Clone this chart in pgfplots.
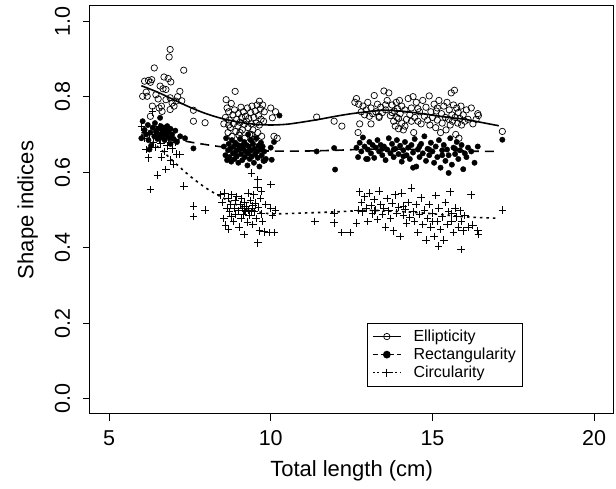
\documentclass[border=0pt]{standalone}
\usepackage{fontspec}
\setmainfont{Liberation Sans}
\usepackage{pgfplots}
\pgfplotsset{compat=1.18}

\begin{document}
\begin{tikzpicture}
% page frame: axis box is 524 x 408 with its lower left corner at the origin
\useasboundingbox (-89.6pt,-75pt) rectangle (526.4pt,414pt);
\begin{axis}[
    scale only axis,
    width=524pt, height=408pt,
    xmin=4.4, xmax=20.6,
    ymin=-0.04, ymax=1.04,
    xtick={5,10,15,20},
    ytick={0,0.2,0.4,0.6,0.8,1.0},
    tick align=outside,
    major tick length=7pt,
    tick style={black, line width=0.8pt},
    axis line style={black, line width=1pt},
    xtick pos=bottom, ytick pos=left,
    /pgf/number format/assume math mode=true,
    ticklabel style={font=\fontsize{21.5}{24}\selectfont},
    xticklabel style={yshift=-6pt},
    yticklabel style={rotate=90, anchor=south, yshift=9pt,
        /pgf/number format/fixed, /pgf/number format/precision=1,
        /pgf/number format/fixed zerofill},
    xlabel={Total length (cm)},
    ylabel={Shape indices},
    label style={font=\fontsize{22}{26}\selectfont},
    xlabel style={at={(axis description cs:0.5,-0.14)}, anchor=center},
    ylabel style={at={(axis description cs:-0.118,0.5)}, anchor=center},
    legend style={at={(axis description cs:0.529,0.067)}, anchor=south west,
        draw=black, line width=0.8pt, font=\fontsize{16}{18}\selectfont,
        inner xsep=5pt, inner ysep=5pt, row sep=1pt,
        /tikz/every odd column/.append style={column sep=10pt},
        cells={anchor=west}},
    legend image code/.code={
        \draw[mark repeat=2,mark phase=2,#1]
        plot coordinates {(0pt,0pt) (14pt,0pt) (28pt,0pt)};},
  ]

% Ellipticity (open circles)
\addplot[only marks, mark=o, mark size=3.2pt, mark options={black, line width=0.7pt}, forget plot] coordinates {
(6.89,0.925) (6.86,0.905) (6.40,0.876) (7.31,0.870) (6.70,0.852) (6.83,0.848) (6.91,0.839)
(6.10,0.841) (6.22,0.843) (6.32,0.845) (6.28,0.838) (6.58,0.828) (6.67,0.821) (6.76,0.819)
(7.19,0.814) (6.04,0.801) (6.18,0.801) (6.52,0.794) (6.76,0.792) (6.89,0.797) (7.07,0.788)
(7.25,0.789) (6.62,0.775) (7.01,0.775) (6.89,0.766) (6.64,0.761) (7.61,0.764) (7.61,0.735)
(7.97,0.731) (6.34,0.775) (6.28,0.748) (6.15,0.812) (6.45,0.805) (6.95,0.783) (6.55,0.770)
(7.12,0.800)
(8.55,0.728) (8.60,0.745) (8.62,0.792) (8.65,0.770) (8.68,0.705) (8.70,0.760) (8.72,0.738)
(8.75,0.718) (8.78,0.782) (8.80,0.695) (8.83,0.752) (8.85,0.728) (8.88,0.765) (8.90,0.814)
(8.92,0.708) (8.95,0.740) (8.98,0.722) (9.00,0.755) (9.02,0.698) (9.05,0.732) (9.08,0.772)
(9.10,0.745) (9.12,0.712) (9.15,0.760) (9.18,0.727) (9.20,0.690) (9.22,0.748) (9.25,0.735)
(9.28,0.770) (9.30,0.718) (9.32,0.742) (9.35,0.700) (9.38,0.758) (9.40,0.728) (9.42,0.775)
(9.45,0.712) (9.48,0.745) (9.50,0.688) (9.52,0.762) (9.55,0.730) (9.58,0.778) (9.60,0.705)
(9.62,0.750) (9.65,0.725) (9.68,0.768) (9.70,0.740) (9.72,0.695) (9.75,0.778) (9.78,0.735)
(9.80,0.760) (9.55,0.682) (9.40,0.700) (9.65,0.788) (9.05,0.705) (8.70,0.725) (10.00,0.770)
(10.05,0.744) (10.10,0.695) (10.20,0.690) (10.15,0.760) (9.80,0.632)
(11.42,0.746) (11.96,0.735) (12.20,0.722)
(12.60,0.785) (12.65,0.795) (12.70,0.705) (12.72,0.780) (12.75,0.728) (12.80,0.760) (12.85,0.775)
(12.90,0.752) (12.95,0.765) (13.00,0.785) (13.05,0.748) (13.10,0.770) (13.15,0.755) (13.20,0.803)
(13.25,0.760) (13.30,0.780) (13.35,0.748) (13.40,0.772) (13.45,0.758) (13.50,0.815) (13.55,0.765)
(13.60,0.790) (13.65,0.810) (13.70,0.750) (13.75,0.778) (13.80,0.735) (13.82,0.762) (13.85,0.722)
(13.88,0.785) (13.90,0.745) (13.92,0.768) (13.95,0.715) (13.98,0.790) (14.00,0.755) (14.05,0.775)
(14.10,0.712) (14.15,0.765) (14.20,0.740) (14.25,0.795) (14.30,0.752) (14.35,0.770) (14.40,0.800)
(14.42,0.705) (14.45,0.745) (14.50,0.785) (14.55,0.735) (14.60,0.760) (14.65,0.728) (14.70,0.790)
(14.75,0.748) (14.80,0.772) (14.85,0.738) (14.90,0.802) (14.92,0.725) (14.95,0.760) (15.00,0.745)
(15.05,0.780) (15.10,0.718) (15.12,0.762) (15.15,0.738) (15.20,0.790) (15.25,0.705) (15.28,0.755)
(15.30,0.730) (15.35,0.775) (15.40,0.745) (15.42,0.712) (15.45,0.785) (15.50,0.740) (15.52,0.765)
(15.55,0.725) (15.58,0.810) (15.60,0.752) (15.62,0.735) (15.65,0.778) (15.68,0.817) (15.70,0.745)
(15.72,0.700) (15.75,0.770) (15.78,0.730) (15.80,0.758) (15.82,0.690) (15.85,0.742) (15.88,0.775)
(15.90,0.725) (15.95,0.752) (16.00,0.735) (16.05,0.765) (16.10,0.740) (16.20,0.770) (16.25,0.728)
(16.40,0.755) (16.42,0.750) (16.35,0.740) (13.35,0.745) (13.10,0.728) (14.05,0.730) (13.75,0.758)
(14.55,0.768) (17.16,0.708) (13.95,0.742) (14.15,0.722) (14.35,0.735) (13.55,0.778) (15.15,0.770)
};

% Rectangularity (filled dots)
\addplot[only marks, mark=*, mark size=2.7pt, mark options={black}, forget plot] coordinates {
(6.00,0.690) (6.04,0.735) (6.10,0.712) (6.15,0.700) (6.20,0.725) (6.22,0.685) (6.28,0.705)
(6.30,0.670) (6.35,0.718) (6.40,0.695) (6.42,0.730) (6.45,0.708) (6.50,0.688) (6.52,0.715)
(6.55,0.700) (6.58,0.744) (6.60,0.722) (6.62,0.692) (6.65,0.710) (6.68,0.702) (6.70,0.718)
(6.72,0.685) (6.75,0.712) (6.78,0.698) (6.80,0.722) (6.85,0.705) (6.88,0.690) (6.90,0.715)
(6.95,0.700) (7.00,0.688) (7.05,0.710) (7.10,0.680) (7.20,0.695) (7.35,0.690) (7.61,0.663)
(6.25,0.660) (6.90,0.675)
(8.55,0.668) (8.60,0.645) (8.62,0.690) (8.65,0.632) (8.68,0.658) (8.70,0.675) (8.72,0.640)
(8.75,0.662) (8.78,0.628) (8.80,0.685) (8.83,0.650) (8.85,0.668) (8.88,0.635) (8.90,0.678)
(8.92,0.655) (8.95,0.642) (8.98,0.672) (9.00,0.625) (9.02,0.660) (9.05,0.688) (9.08,0.648)
(9.10,0.670) (9.12,0.632) (9.15,0.662) (9.18,0.680) (9.20,0.640) (9.22,0.655) (9.25,0.672)
(9.28,0.618) (9.30,0.650) (9.32,0.668) (9.35,0.635) (9.38,0.685) (9.40,0.658) (9.42,0.642)
(9.45,0.675) (9.48,0.625) (9.50,0.662) (9.52,0.648) (9.55,0.690) (9.58,0.655) (9.60,0.638)
(9.62,0.670) (9.65,0.615) (9.68,0.660) (9.70,0.678) (9.72,0.645) (9.75,0.668) (9.78,0.630)
(9.80,0.655) (9.85,0.635) (10.00,0.665) (10.03,0.633) (10.10,0.680) (10.27,0.750) (9.30,0.700)
(11.42,0.655) (11.96,0.664) (11.99,0.607)
(12.65,0.665) (12.70,0.640) (12.75,0.678) (12.80,0.655) (12.85,0.692) (12.90,0.668) (12.95,0.635)
(13.00,0.660) (13.05,0.680) (13.10,0.650) (13.15,0.672) (13.20,0.638) (13.25,0.665) (13.30,0.685)
(13.35,0.655) (13.40,0.672) (13.45,0.645) (13.50,0.668) (13.55,0.632) (13.60,0.660) (13.65,0.690)
(13.70,0.650) (13.75,0.675) (13.80,0.640) (13.85,0.662) (13.90,0.685) (13.95,0.648) (14.00,0.670)
(14.05,0.628) (14.10,0.658) (14.15,0.680) (14.20,0.645) (14.25,0.665) (14.30,0.635) (14.35,0.672)
(14.40,0.652) (14.45,0.688) (14.50,0.615) (14.55,0.660) (14.60,0.640) (14.65,0.675) (14.70,0.650)
(14.75,0.695) (14.80,0.630) (14.85,0.662) (14.90,0.645) (14.95,0.678) (15.00,0.655) (15.05,0.625)
(15.10,0.668) (15.15,0.640) (15.20,0.685) (15.25,0.612) (15.30,0.658) (15.35,0.672) (15.40,0.630)
(15.45,0.660) (15.50,0.645) (15.55,0.690) (15.60,0.620) (15.65,0.665) (15.70,0.648) (15.75,0.680)
(15.80,0.635) (15.85,0.658) (15.90,0.672) (15.95,0.608) (16.00,0.650) (16.05,0.640) (16.10,0.665)
(16.20,0.655) (16.30,0.625) (16.40,0.668) (13.00,0.635) (13.80,0.660) (14.40,0.612) (15.50,0.598)
(17.16,0.686) (14.10,0.642) (14.60,0.668) (15.30,0.645) (15.70,0.662) (13.45,0.662) (14.90,0.660)
};

% Circularity (plus signs)
\addplot[only marks, mark=+, mark size=3.8pt, mark options={black, line width=0.9pt}, forget plot] coordinates {
(6.00,0.720) (6.10,0.690) (6.15,0.660) (6.22,0.638) (6.28,0.554) (6.34,0.760) (6.38,0.680)
(6.40,0.700) (6.45,0.665) (6.50,0.592) (6.55,0.688) (6.60,0.675) (6.62,0.640) (6.68,0.700)
(6.70,0.655) (6.76,0.607) (6.80,0.670) (6.85,0.690) (6.90,0.632) (6.95,0.662) (7.00,0.620)
(7.05,0.680) (7.10,0.648) (7.19,0.647) (7.31,0.563) (6.25,0.700) (6.55,0.720)
(7.61,0.510) (7.61,0.483) (7.97,0.500) (8.45,0.540) (8.50,0.520) (8.55,0.478) (8.58,0.545)
(8.60,0.460) (8.65,0.505) (8.68,0.530) (8.70,0.448) (8.72,0.495) (8.75,0.515) (8.78,0.482)
(8.80,0.540) (8.85,0.470) (8.88,0.505) (8.90,0.525) (8.92,0.488) (8.95,0.535) (9.00,0.498)
(9.02,0.455) (9.05,0.515) (9.08,0.478) (9.10,0.530) (9.12,0.505) (9.15,0.488) (9.18,0.435)
(9.20,0.520) (9.22,0.495) (9.25,0.510) (9.28,0.468) (9.30,0.545) (9.32,0.500) (9.35,0.485)
(9.38,0.525) (9.40,0.598) (9.42,0.505) (9.45,0.462) (9.48,0.540) (9.50,0.495) (9.52,0.518)
(9.55,0.478) (9.58,0.560) (9.60,0.580) (9.60,0.413) (9.62,0.508) (9.65,0.445) (9.68,0.530)
(9.70,0.490) (9.72,0.550) (9.75,0.470) (9.80,0.442) (9.85,0.515) (9.95,0.440) (10.00,0.567)
(10.00,0.505) (10.05,0.485) (10.10,0.440) (10.15,0.500) (9.40,0.495) (9.45,0.512) (9.20,0.500)
(11.36,0.470) (11.96,0.466) (11.96,0.492) (12.20,0.440) (12.45,0.440)
(12.65,0.465) (12.70,0.500) (12.75,0.548) (12.80,0.520) (12.85,0.495) (12.90,0.535) (12.95,0.505)
(13.00,0.470) (13.05,0.545) (13.10,0.512) (13.15,0.490) (13.20,0.528) (13.25,0.500) (13.30,0.475)
(13.35,0.550) (13.40,0.515) (13.45,0.488) (13.50,0.505) (13.55,0.455) (13.60,0.530) (13.65,0.498)
(13.70,0.478) (13.75,0.518) (13.80,0.445) (13.85,0.540) (13.90,0.492) (13.95,0.508) (14.00,0.430)
(14.05,0.545) (14.10,0.485) (14.15,0.502) (14.20,0.465) (14.25,0.520) (14.30,0.480) (14.35,0.558)
(14.40,0.495) (14.45,0.470) (14.50,0.515) (14.55,0.440) (14.60,0.488) (14.65,0.532) (14.70,0.462)
(14.75,0.500) (14.80,0.420) (14.85,0.478) (14.90,0.515) (14.95,0.455) (15.00,0.492) (15.05,0.430)
(15.10,0.538) (15.15,0.470) (15.19,0.404) (15.20,0.505) (15.25,0.448) (15.30,0.482) (15.35,0.420)
(15.40,0.520) (15.45,0.462) (15.50,0.495) (15.55,0.548) (15.60,0.470) (15.65,0.440) (15.70,0.505)
(15.75,0.482) (15.80,0.455) (15.85,0.498) (15.89,0.395) (15.90,0.470) (15.95,0.445) (16.00,0.485)
(16.10,0.455) (16.20,0.540) (16.25,0.460) (16.40,0.445) (16.42,0.435) (13.20,0.498) (14.10,0.510)
(15.00,0.470) (15.60,0.490) (17.16,0.500)
};

% smoothed trends
\addplot[black, line width=1.6pt, smooth, forget plot] coordinates {
(6.0,0.829) (6.5,0.812) (7.0,0.792) (7.5,0.772) (8.0,0.755) (8.5,0.742) (9.0,0.733)
(9.5,0.727) (10.0,0.725) (10.5,0.727) (11.0,0.733) (11.5,0.740) (12.0,0.748) (12.5,0.755)
(13.0,0.760) (13.5,0.764) (14.0,0.762) (14.5,0.757) (15.0,0.751) (15.5,0.745) (16.0,0.740)
(16.5,0.732) (17.05,0.723)
};
\addplot[black, line width=1.6pt, dash pattern=on 9pt off 6pt, smooth, forget plot] coordinates {
(6.0,0.705) (6.5,0.697) (7.0,0.688) (7.5,0.680) (8.0,0.673) (8.5,0.667) (9.0,0.662)
(9.5,0.658) (10.0,0.656) (11.0,0.656) (12.0,0.658) (13.0,0.661) (14.0,0.661) (15.0,0.659)
(16.0,0.656) (17.05,0.655)
};
\addplot[black, line width=1.6pt, dash pattern=on 2.5pt off 4pt, smooth, forget plot] coordinates {
(6.0,0.700) (6.5,0.668) (7.0,0.628) (7.5,0.590) (8.0,0.558) (8.5,0.533) (9.0,0.512)
(9.5,0.498) (10.0,0.490) (11.0,0.492) (12.0,0.495) (13.0,0.499) (14.0,0.496) (15.0,0.490)
(16.0,0.482) (17.05,0.478)
};

\addlegendimage{black, line width=1.3pt, mark=o, mark size=3.2pt, mark options={solid, line width=0.7pt}}
\addlegendentry{Ellipticity}
\addlegendimage{black, line width=1.3pt, dash pattern=on 5pt off 3pt, mark=*, mark size=3.2pt, mark options={solid}}
\addlegendentry{Rectangularity}
\addlegendimage{black, line width=1.3pt, dash pattern=on 2pt off 2.5pt, mark=+, mark size=4.2pt, mark options={solid, line width=0.9pt}}
\addlegendentry{Circularity}
\end{axis}
\end{tikzpicture}
\end{document}
